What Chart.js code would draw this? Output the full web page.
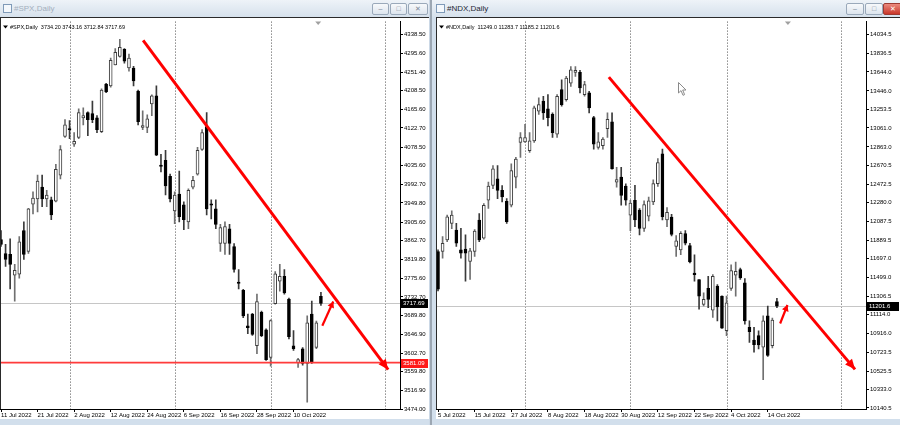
<!DOCTYPE html>
<html>
<head>
<meta charset="utf-8">
<script src="https://cdn.jsdelivr.net/npm/chart.js@4.4.1/dist/chart.umd.min.js"></script>
<style>
  html, body { margin: 0; padding: 0; }
  body { width: 900px; height: 425px; background: #cbd8e6; position: relative; overflow: hidden; font-family: "Liberation Sans", Arial, sans-serif; }
  .win { position: absolute; top: 0; height: 425px; background: #d2dfec; }
  .title { position: absolute; left: 0; right: 0; top: 0; height: 17px; background: linear-gradient(#eef3f8, #d6e1ec); }
  .title .txt { position: absolute; top: 4px; font-size: 8px; }
  .icon { position: absolute; top: 4px; width: 7px; height: 7px; border: 1px solid #7f9ab8; background: #f4f8fc; }
  .btn { position: absolute; top: 3px; height: 10px; border: 1px solid #9aa9ba; border-radius: 2px; background: linear-gradient(#f7f9fb, #dde5ee); font-size: 7px; line-height: 10px; text-align: center; color: #7a8795; }
  .btn.close { background: linear-gradient(#eb8a7e, #c9372a); border-color: #9c3b33; color: #fff; }
  canvas { position: absolute; background: #fff; }
</style>
</head>
<body>
<div class="win" style="left:0;width:429px;">
  <div class="title">
    <div class="icon" style="left:3px;"></div>
    <div class="txt" style="left:14px;color:#a3afbd;">#SPX,Daily</div>
    <div class="btn" style="left:372px;width:15px;">&#8211;</div>
    <div class="btn" style="left:390px;width:15px;">&#9633;</div>
    <div class="btn" style="left:408px;width:18px;">&#10005;</div>
  </div>
</div>
<div class="win" style="left:430px;width:470px;border-left:2px solid #9ca7b3;box-sizing:border-box;">
  <div class="title">
    <div class="icon" style="left:4px;"></div>
    <div class="txt" style="left:15px;color:#1d2733;">#NDX,Daily</div>
    <div class="btn" style="left:414px;width:16px;">&#8211;</div>
    <div class="btn" style="left:433px;width:16px;">&#9633;</div>
    <div class="btn close" style="left:451px;width:17px;">&#10005;</div>
  </div>
</div>
<canvas id="spx" width="429" height="402" style="left:0;top:17px;"></canvas>
<canvas id="ndx" width="464" height="402" style="left:436px;top:17px;"></canvas>
<svg style="position:absolute;left:678px;top:82px" width="10" height="15">
  <path d="M0.5 0.5 L0.5 11 L3 8.6 L5 13.3 L6.6 12.6 L4.7 8 L8 8 Z" fill="#fff" stroke="#8a8a8a" stroke-width="1"/>
</svg>

<script>
const FONT = '"Liberation Sans", Arial, sans-serif';

// ---------- #SPX, Daily ----------
const spxHeader = '#SPX,Daily  3734.20 3743.16 3712.84 3717.69';
const spxDateLabels = ['11 Jul 2022', '21 Jul 2022', '2 Aug 2022', '12 Aug 2022', '24 Aug 2022', '6 Sep 2022', '16 Sep 2022', '28 Sep 2022', '10 Oct 2022'];
const spxDateIdx = [0, 8, 16, 24, 32, 40, 48, 56, 64];
const spxPriceTicks = [4338.50, 4295.60, 4251.40, 4208.50, 4165.60, 4122.70, 4078.50, 4035.60, 3992.70, 3949.80, 3905.60,
  3862.70, 3819.80, 3775.60, 3732.70, 3689.80, 3646.90, 3602.70, 3559.80, 3516.90, 3474.00];
const spxOpen = [3865, 3833, 3831, 3783, 3785, 3886, 3838, 3947, 3959, 3986, 3959, 3957, 3954, 4014, 4103, 4121, 4085, 4101, 4146, 4158,
  4156, 4146, 4114, 4224, 4220, 4268, 4288, 4304, 4261, 4261, 4208, 4124, 4124, 4178, 4197, 4036, 4048, 4011, 3931, 3970,
  3945, 3906, 3986, 4016, 4073, 4126, 3947, 3936, 3856, 3856, 3890, 3849, 3767, 3748, 3666, 3693, 3620, 3697, 3657, 3593,
  3717, 3769, 3780, 3728, 3620, 3581, 3613, 3579, 3693, 3616, 3734.20];
const spxHigh = [3886, 3854, 3867, 3808, 3872, 3906, 3937, 3975, 4014, 4014, 3979, 3963, 4039, 4082, 4142, 4140, 4112, 4167, 4169, 4160,
  4185, 4151, 4213, 4226, 4284, 4306, 4327, 4306, 4293, 4265, 4210, 4162, 4153, 4199, 4220, 4062, 4071, 4016, 3975, 4023,
  3952, 3982, 4011, 4078, 4119, 4158, 3957, 3957, 3900, 3906, 3900, 3856, 3796, 3750, 3693, 3695, 3739, 3700, 3659, 3680,
  3791, 3808, 3796, 3730, 3655, 3591, 3616, 3689, 3723, 3677, 3743.16];
const spxLow = [3849, 3803, 3751, 3723, 3776, 3819, 3833, 3924, 3929, 3941, 3941, 3911, 3952, 4005, 4101, 4098, 4080, 4098, 4130, 4105,
  4135, 4112, 4112, 4204, 4217, 4268, 4286, 4272, 4254, 4220, 4130, 4119, 4112, 4151, 4059, 4021, 3968, 3952, 3902, 3906,
  3888, 3890, 3982, 4014, 4071, 3922, 3913, 3890, 3838, 3831, 3831, 3790, 3751, 3685, 3648, 3644, 3602, 3641, 3586, 3573,
  3716, 3746, 3739, 3636, 3609, 3570, 3575, 3490, 3579, 3613, 3712.84];
const spxClose = [3854, 3819, 3808, 3794, 3860, 3831, 3936, 3961, 4000, 3959, 3968, 3922, 4027, 4073, 4130, 4119, 4092, 4158, 4151, 4142,
  4142, 4119, 4210, 4206, 4279, 4297, 4309, 4277, 4284, 4231, 4137, 4128, 4144, 4197, 4060, 4035, 3989, 3959, 3968, 3918,
  3911, 3979, 4002, 4071, 4112, 3936, 3945, 3900, 3893, 3895, 3856, 3796, 3764, 3689, 3662, 3646, 3722, 3643, 3588, 3678,
  3786, 3780, 3742, 3641, 3613, 3588, 3579, 3673, 3581, 3673, 3717.69];
const spxSeparators = [15, 38, 59, 84];
const spxLevel = 3581.09;
const spxBid = 3717.69;
const spxTrendX = [31.1, 84.7];
const spxTrendY = [4325, 3565];
const spxArrowX = [70.3, 72.7];
const spxArrowY = [3666, 3722];

// ---------- #NDX, Daily ----------
const ndxHeader = '#NDX,Daily  11249.0 11283.7 11185.2 11201.6';
const ndxDateLabels = ['5 Jul 2022', '15 Jul 2022', '27 Jul 2022', '8 Aug 2022', '18 Aug 2022', '30 Aug 2022', '12 Sep 2022', '22 Sep 2022', '4 Oct 2022', '14 Oct 2022'];
const ndxDateIdx = [0, 8, 16, 24, 32, 40, 48, 56, 64, 72];
const ndxPriceTicks = [14034.5, 13836.5, 13644.0, 13446.0, 13253.5, 13061.0, 12863.0, 12670.5, 12472.5, 12280.0, 12087.5,
  11889.5, 11697.0, 11499.0, 11306.5, 11114.0, 10916.0, 10723.5, 10525.5, 10333.0, 10140.5];
const ndxOpen = [11772, 11772, 11893, 12065, 11996, 11789, 11796, 11669, 11772, 12100, 11910, 12306, 12461, 12529, 12409, 12296, 12254, 12547, 12909, 12915,
  12823, 12926, 13236, 13339, 13260, 13201, 12994, 13459, 13356, 13528, 13639, 13639, 13408, 13425, 13167, 12857, 12874, 13053, 13125, 12495,
  12547, 12454, 12151, 12306, 12203, 12013, 12140, 12290, 12480, 12790, 12100, 12130, 11824, 11789, 11960, 11834, 11548, 11480, 11221, 11387,
  11159, 11411, 11307, 10946, 11387, 11524, 11583, 11445, 10980, 10849, 10894, 10774, 11101, 10791, 11249.0];
const ndxHigh = [11790, 11927, 12151, 12196, 12065, 12013, 11945, 11806, 12000, 12168, 12271, 12495, 12668, 12668, 12460, 12323, 12685, 12754, 13012, 13098,
  13012, 13288, 13373, 13390, 13407, 13218, 13407, 13562, 13597, 13700, 13700, 13660, 13545, 13442, 13180, 13012, 12960, 13218, 13218, 12650,
  12650, 12478, 12306, 12461, 12220, 12300, 12340, 12520, 12740, 12840, 12230, 12160, 11937, 11979, 11990, 11858, 11738, 11480, 11342, 11514,
  11531, 11428, 11310, 11307, 11634, 11662, 11600, 11490, 11049, 10980, 10946, 11101, 11204, 11077, 11283.7];
const ndxLow = [11360, 11703, 11875, 12010, 11824, 11703, 11462, 11480, 11720, 11875, 11900, 12220, 12426, 12323, 12290, 12065, 12237, 12436, 12754, 12908,
  12806, 12908, 13201, 13150, 13081, 12960, 12960, 13287, 13339, 13494, 13597, 13425, 13391, 13218, 12840, 12840, 12840, 12960, 12630, 12443,
  12254, 12254, 11990, 12030, 11945, 11980, 12090, 12260, 12450, 12100, 12030, 11935, 11720, 11738, 11840, 11652, 11462, 11170, 11204, 11187,
  11084, 11049, 10970, 10894, 11366, 11307, 11480, 11015, 10825, 10722, 10756, 10436, 10677, 10767, 11185.2];
const ndxClose = [11380, 11858, 12134, 12151, 11858, 11755, 11755, 11779, 11985, 11893, 12254, 12454, 12633, 12409, 12340, 12082, 12616, 12736, 12960, 12960,
  12926, 13270, 13304, 13218, 13167, 13012, 13390, 13304, 13580, 13666, 13660, 13477, 13511, 13270, 12891, 12915, 12943, 13149, 12633, 12523,
  12357, 12306, 12278, 12100, 12013, 12261, 12300, 12480, 12700, 12134, 12180, 11951, 11882, 11962, 11858, 11662, 11531, 11307, 11273, 11273,
  11514, 11194, 10973, 11238, 11572, 11566, 11497, 11049, 10935, 10801, 10798, 11049, 10688, 11056, 11201.6];
const ndxSeparators = [19, 42, 63, 88];
const ndxBid = 11201.6;
const ndxTrendX = [37.3, 91.05];
const ndxTrendY = [13590, 10543];
const ndxArrowX = [74.7, 76.3];
const ndxArrowY = [11021, 11214];

function candleData(open, high, low, close, minSpan) {
  const bodies = [], wicks = [], fills = [], edges = [], wickCols = [];
  for (let i = 0; i < open.length; i++) {
    let lo = Math.min(open[i], close[i]);
    let hi = Math.max(open[i], close[i]);
    if (hi - lo < minSpan) {
      const m = (hi + lo) / 2;
      lo = m - minSpan / 2;
      hi = m + minSpan / 2;
    }
    bodies.push({ x: i, y: [lo, hi] });
    wicks.push({ x: i, y: [low[i], high[i]] });
    const up = close[i] >= open[i];
    fills.push(up ? '#ffffff' : '#000000');
    edges.push(up ? '#3c3c3c' : '#000000');
    wickCols.push(up ? '#707070' : '#3a3a3a');
  }
  return { bodies, wicks, fills, edges, wickCols };
}

function arrowHead(ctx, x1, y1, x2, y2, len, half, color) {
  const ang = Math.atan2(y2 - y1, x2 - x1);
  ctx.save();
  ctx.translate(x2, y2);
  ctx.rotate(ang);
  ctx.fillStyle = color;
  ctx.beginPath();
  ctx.moveTo(0, 0);
  ctx.lineTo(-len, -half);
  ctx.lineTo(-len, half);
  ctx.closePath();
  ctx.fill();
  ctx.restore();
}

function priceBox(ctx, chart, y, text, bg) {
  const a = chart.chartArea;
  const py = Math.round(chart.scales.y.getPixelForValue(y));
  ctx.fillStyle = bg;
  ctx.fillRect(a.right + 1, py - 4, chart.width - a.right - 2, 9);
  ctx.fillStyle = '#ffffff';
  ctx.font = '6px ' + FONT;
  ctx.textBaseline = 'middle';
  ctx.textAlign = 'left';
  ctx.fillText(text, a.right + 3, py + 0.5);
}

const chartDecor = {
  id: 'chartDecor',
  beforeDatasetsDraw(chart, args, o) {
    const { ctx, chartArea: a, scales: { x, y } } = chart;
    ctx.save();
    ctx.lineWidth = 1;
    ctx.strokeStyle = '#505050';
    ctx.setLineDash([1, 2]);
    for (const i of o.separators) {
      const px = Math.round(x.getPixelForValue(i)) + 0.5;
      ctx.beginPath(); ctx.moveTo(px, a.top); ctx.lineTo(px, a.bottom); ctx.stroke();
    }
    ctx.setLineDash([]);
    ctx.strokeStyle = '#c6c6c6';
    const by = Math.round(y.getPixelForValue(o.bid)) + 0.5;
    ctx.beginPath(); ctx.moveTo(a.left, by); ctx.lineTo(a.right, by); ctx.stroke();
    ctx.restore();
  },
  afterDatasetsDraw(chart, args, o) {
    const { ctx, chartArea: a, scales: { y } } = chart;
    ctx.save();
    if (o.level != null) {
      const ly = y.getPixelForValue(o.level);
      ctx.strokeStyle = '#ff3b3b';
      ctx.lineWidth = 1.6;
      ctx.beginPath(); ctx.moveTo(a.left, ly); ctx.lineTo(a.right, ly); ctx.stroke();
    }
    chart.data.datasets.forEach((ds, k) => {
      if (!ds.head) return;
      const pts = chart.getDatasetMeta(k).data;
      const p1 = pts[0], p2 = pts[pts.length - 1];
      arrowHead(ctx, p1.x, p1.y, p2.x, p2.y, ds.head[0], ds.head[1], ds.borderColor);
    });
    ctx.restore();
  },
  afterDraw(chart, args, o) {
    const { ctx, chartArea: a, scales: { x } } = chart;
    ctx.save();
    // client frame
    ctx.strokeStyle = '#2a2a2a';
    ctx.lineWidth = 1;
    ctx.beginPath();
    ctx.moveTo(0, 0.5); ctx.lineTo(chart.width, 0.5);
    ctx.moveTo(a.left + 0.5, 0); ctx.lineTo(a.left + 0.5, a.bottom);
    ctx.stroke();
    // header
    ctx.fillStyle = '#000';
    ctx.beginPath();
    ctx.moveTo(a.left + 3, a.top + 4); ctx.lineTo(a.left + 8, a.top + 4); ctx.lineTo(a.left + 5.5, a.top + 7);
    ctx.closePath(); ctx.fill();
    ctx.font = '5.5px ' + FONT;
    ctx.textBaseline = 'middle';
    ctx.textAlign = 'left';
    ctx.fillText(o.header, a.left + 10, a.top + 5.5);
    // chart shift marker
    const sx = x.getPixelForValue(o.shift);
    ctx.fillStyle = '#a0a0a0';
    ctx.beginPath();
    ctx.moveTo(sx - 3, a.top); ctx.lineTo(sx + 3, a.top); ctx.lineTo(sx, a.top + 3.5);
    ctx.closePath(); ctx.fill();
    // price boxes
    if (o.level != null) priceBox(ctx, chart, o.level, o.levelText, '#ff1a1a');
    priceBox(ctx, chart, o.bid, o.bidText, '#000000');
    ctx.restore();
  }
};

function makeChart(id, s) {
  const plotH = 391;
  const minSpan = (s.yMax - s.yMin) / plotH * 1.3;
  const c = candleData(s.open, s.high, s.low, s.close, minSpan);
  new Chart(document.getElementById(id), {
    type: 'bar',
    data: {
      datasets: [
        {
          label: 'trend', type: 'line', order: 0,
          data: s.trendX.map((v, i) => ({ x: v, y: s.trendY[i] })),
          borderColor: '#ff0000', borderWidth: 3, pointRadius: 0, head: [10, 4.5]
        },
        {
          label: 'arrow', type: 'line', order: 0,
          data: s.arrowX.map((v, i) => ({ x: v, y: s.arrowY[i] })),
          borderColor: '#ff0000', borderWidth: 2.2, pointRadius: 0, head: [6, 3.5]
        },
        {
          label: 'body', order: 1, grouped: false, barThickness: 3,
          data: c.bodies, backgroundColor: c.fills, borderColor: c.edges,
          borderWidth: 1, borderSkipped: false
        },
        {
          label: 'wick', order: 2, grouped: false, barThickness: 1,
          data: c.wicks, backgroundColor: c.wickCols, borderWidth: 0
        }
      ]
    },
    options: {
      responsive: false,
      animation: false,
      layout: { padding: { top: 1, left: s.padLeft, right: 0, bottom: 0 } },
      plugins: {
        legend: { display: false },
        tooltip: { enabled: false },
        chartDecor: {
          separators: s.separators, bid: s.bid, bidText: s.bidText,
          level: s.level, levelText: s.levelText, header: s.header, shift: s.shift
        }
      },
      scales: {
        x: {
          type: 'linear', min: s.xMin, max: s.xMax, offset: false,
          afterBuildTicks: sc => { sc.ticks = s.dateIdx.map(v => ({ value: v })); },
          afterFit: sc => { sc.height = 10; },
          grid: { drawOnChartArea: false, offset: false, tickLength: 3, tickColor: '#000' },
          border: { color: '#000' },
          ticks: {
            autoSkip: false, maxRotation: 0, align: 'start', padding: 0, color: '#000',
            font: { size: 6, family: FONT },
            callback: (v, i) => s.dateLabels[i]
          }
        },
        y: {
          position: 'right', min: s.yMin, max: s.yMax,
          afterBuildTicks: sc => { sc.ticks = s.priceTicks.map(v => ({ value: v })); },
          afterFit: sc => { sc.width = s.axisW; },
          grid: { drawOnChartArea: false, tickLength: 3, tickColor: '#000' },
          border: { color: '#000' },
          ticks: {
            autoSkip: false, padding: 1, color: '#000',
            font: { size: 6, family: FONT },
            callback: v => v.toFixed(s.decimals)
          }
        }
      }
    },
    plugins: [chartDecor]
  });
}

makeChart('spx', {
  open: spxOpen, high: spxHigh, low: spxLow, close: spxClose,
  dateLabels: spxDateLabels, dateIdx: spxDateIdx, priceTicks: spxPriceTicks,
  separators: spxSeparators, bid: spxBid, bidText: spxBid.toFixed(2),
  level: spxLevel, levelText: spxLevel.toFixed(2), header: spxHeader,
  trendX: spxTrendX, trendY: spxTrendY, arrowX: spxArrowX, arrowY: spxArrowY,
  xMin: -0.22, xMax: 87.3, yMin: 3474.0, yMax: 4368.2,
  padLeft: 0, axisW: 29, decimals: 2, shift: 69.4
});

makeChart('ndx', {
  open: ndxOpen, high: ndxHigh, low: ndxLow, close: ndxClose,
  dateLabels: ndxDateLabels, dateIdx: ndxDateIdx, priceTicks: ndxPriceTicks,
  separators: ndxSeparators, bid: ndxBid, bidText: ndxBid.toFixed(1),
  level: null, levelText: '', header: ndxHeader,
  trendX: ndxTrendX, trendY: ndxTrendY, arrowX: ndxArrowX, arrowY: ndxArrowY,
  xMin: -0.44, xMax: 93.45, yMin: 10129.8, yMax: 14168.8,
  padLeft: 0, axisW: 34, decimals: 1, shift: 76.4
});
</script>
</body>
</html>
